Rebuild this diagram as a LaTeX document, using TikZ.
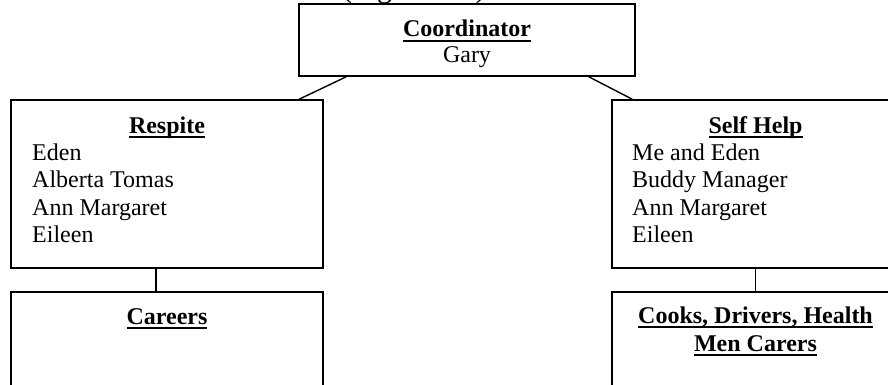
\documentclass[tikz,border=0pt]{standalone}
\usepackage{fontspec}
\setmainfont{Liberation Serif}
% bold heading with a thick underline set just below the baseline
\newcommand\headline[1]{\setbox0\hbox{\bfseries #1}\rlap{\rule[-4.8pt]{\wd0}{2pt}}\box0}
\begin{document}
\begin{tikzpicture}[x=1pt,y=-1pt,
  box/.style={draw, line width=1.6pt, inner sep=0pt},
  txt/.style={inner sep=0pt, font=\fontsize{24}{27.6}\selectfont},
  link/.style={line width=1.4pt}]
\clip (0,0) rectangle (888,385);

% caption above the chart
\node[inner sep=0pt, anchor=base west, font=\fontsize{30}{34}\selectfont] (caption) at (342,-2.5) {(Figure 2.1)};

% boxes
\node[box, minimum width=336pt, minimum height=72pt] (coord) at (467,40) {};
\node[box, minimum width=312pt, minimum height=168pt] (respite) at (167,184) {};
\node[box, minimum width=287pt, minimum height=168pt] (selfhelp) at (755.5,184) {};
\node[box, minimum width=312pt, minimum height=140pt] (careers) at (167,362) {};
\node[box, minimum width=287pt, minimum height=140pt] (cooks) at (755.5,362) {};

% connectors
\draw[link] ([xshift=48pt]coord.south west) -- ([xshift=289pt]respite.north west);
\draw[link] ([xshift=-47pt]coord.south east) -- ([xshift=21pt]selfhelp.north west);
\draw[link] ([xshift=-11pt]respite.south) -- ([xshift=-11pt]careers.north);
\draw[link] (selfhelp.south) -- (cooks.north);

% Coordinator
\node[txt, anchor=base] (coordhead) at (467,37) {\headline{Coordinator}};
\node[txt, anchor=base] (gary) at (467,63) {Gary};

% Respite
\node[txt, anchor=base] (resphead) at (167,133) {\headline{Respite}};
\node[txt, anchor=base west] (resp1) at (32,160) {Eden};
\node[txt, anchor=base west] (resp2) at (32,187.6) {Alberta Tomas};
\node[txt, anchor=base west] (resp3) at (32,215.2) {Ann Margaret};
\node[txt, anchor=base west] (resp4) at (32,242.8) {Eileen};

% Self Help
\node[txt, anchor=base] (selfhead) at (755.5,133) {\headline{Self Help}};
\node[txt, anchor=base west] (self1) at (632,160) {Me and Eden};
\node[txt, anchor=base west] (self2) at (632,187.6) {Buddy Manager};
\node[txt, anchor=base west] (self3) at (632,215.2) {Ann Margaret};
\node[txt, anchor=base west] (self4) at (632,242.8) {Eileen};

% Careers
\node[txt, anchor=base] (carhead) at (167,324) {\headline{Careers}};

% Cooks, Drivers, Health / Men Carers
\node[txt, anchor=base] (cookhead1) at (755.5,323) {\headline{Cooks, Drivers, Health}};
\node[txt, anchor=base] (cookhead2) at (755.5,351) {\headline{Men Carers}};
\end{tikzpicture}
\end{document}
